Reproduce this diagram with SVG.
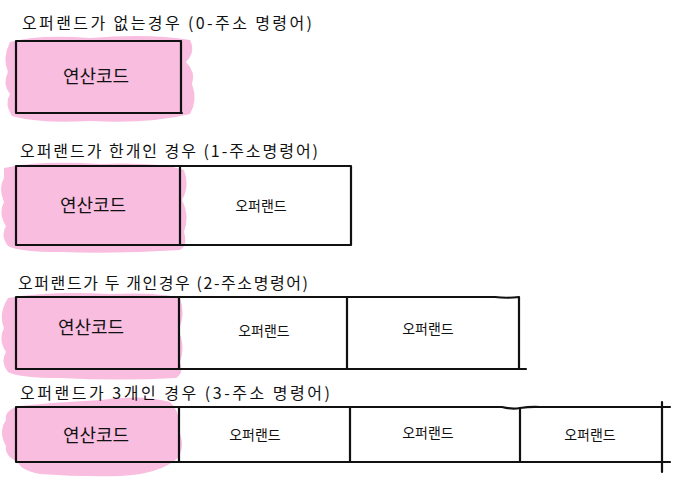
<svg xmlns="http://www.w3.org/2000/svg" width="674" height="477" viewBox="0 0 674 477">
<style>
.bg{fill:#ffffff}
.pink{fill:#f9bde0}
.ln{fill:none;stroke:#111111;stroke-width:2.2;stroke-linecap:round;stroke-linejoin:round}
.title{font-family:"Noto Sans CJK KR","Noto Sans",sans-serif;font-size:16px;fill:#111111}
.op{font-family:"Noto Sans CJK KR","Noto Sans",sans-serif;font-size:18px;fill:#111111;text-anchor:middle}
.opd{font-family:"Noto Sans CJK KR","Noto Sans",sans-serif;font-size:14px;fill:#111111;text-anchor:middle}
</style>
<rect class="bg" x="0" y="0" width="674" height="477"/>

<!-- Row 1: 0-address -->
<g id="row1">
  <g id="row1-opcode">
    <path class="pink" d="M10,42 Q40,34 90,38 Q150,33 190,40 Q196,52 186,62 Q196,72 192,84 Q198,100 190,114 Q150,124 90,121 Q40,124 12,116 Q4,104 10,94 Q2,84 8,72 Q2,58 10,42 Z"/>
    <path class="ln" d="M16,41 L181,41 M16,41 L16,113 M181,41 L181,113 M16,113 L182,113"/>
    <text class="op" x="96" y="83">연산코드</text>
  </g>
  <text class="title" x="22" y="29" textLength="290" lengthAdjust="spacing">오퍼랜드가 없는경우 (0-주소 명령어)</text>
</g>

<!-- Row 2: 1-address -->
<g id="row2">
  <g id="row2-opcode">
    <path class="pink" d="M4,168 Q40,160 100,164 Q160,162 184,170 Q190,186 182,200 Q190,216 184,232 Q188,246 180,250 Q120,254 60,252 Q20,252 8,246 Q0,236 6,226 Q-2,214 4,202 Q-2,188 4,178 Z"/>
    <path class="ln" d="M16,166 L180,166 M16,166 L16,245 M16,245 L180,245"/>
    <text class="op" x="93" y="212">연산코드</text>
  </g>
  <g id="row2-operand">
    <path class="ln" d="M180,166 L351,166 L351,245 L180,245 M180,166 L180,245"/>
    <text class="opd" x="261" y="211">오퍼랜드</text>
  </g>
  <text class="title" x="20" y="157" textLength="298" lengthAdjust="spacing">오퍼랜드가 한개인 경우 (1-주소명령어)</text>
</g>

<!-- Row 3: 2-address -->
<g id="row3">
  <g id="row3-opcode">
    <path class="pink" d="M8,298 Q50,291 110,294 Q160,292 180,298 Q186,316 178,330 Q186,346 180,362 Q184,374 176,378 Q120,381 60,378 Q20,378 8,372 Q0,362 6,352 Q-2,340 4,328 Q-2,314 8,298 Z"/>
    <path class="ln" d="M16,297 L179,297 M16,297 L16,369 M16,369 L179,369"/>
    <text class="op" x="91" y="334">연산코드</text>
  </g>
  <g id="row3-operand1">
    <path class="ln" d="M179,297 L347,297 M179,369 L347,369 M179,297 L179,369"/>
    <text class="opd" x="264" y="336">오퍼랜드</text>
  </g>
  <g id="row3-operand2">
    <path class="ln" d="M347,297 L495,297 Q507,298.5 519,297 L519,369 L347,369 M347,297 L347,369 M519,369 L526,369"/>
    <text class="opd" x="428" y="334">오퍼랜드</text>
  </g>
  <text class="title" x="18" y="289" textLength="290" lengthAdjust="spacing">오퍼랜드가 두 개인경우 (2-주소명령어)</text>
</g>

<!-- Row 4: 3-address -->
<g id="row4">
  <g id="row4-opcode">
    <path class="pink" d="M20,406 Q60,402 100,400 Q140,394 170,402 Q182,414 178,430 Q186,444 178,458 Q160,474 120,476 Q80,477 40,474 Q20,470 18,462 Q4,456 6,446 Q-2,432 6,420 Q4,410 20,406 Z"/>
    <path class="ln" d="M16,407 L179,407 M16,407 L16,462 M16,462 L179,462"/>
    <text class="op" x="96" y="442">연산코드</text>
  </g>
  <g id="row4-operand1">
    <path class="ln" d="M179,407 L350,407 M179,462 L350,462 M179,407 L179,462"/>
    <text class="opd" x="255" y="440">오퍼랜드</text>
  </g>
  <g id="row4-operand2">
    <path class="ln" d="M350,407 L502,407 Q512,409.5 520,408 M350,462 L520,462 M350,407 L350,462"/>
    <text class="opd" x="428" y="438">오퍼랜드</text>
  </g>
  <g id="row4-operand3">
    <path class="ln" d="M520,408 Q530,406.5 540,407 L670,407 M520,462 L670,462 M520,408 L520,462 M662,402 L662,472"/>
    <text class="opd" x="590" y="440">오퍼랜드</text>
  </g>
  <text class="title" x="20" y="399" textLength="310" lengthAdjust="spacing">오퍼랜드가 3개인 경우 (3-주소 명령어)</text>
</g>
</svg>
